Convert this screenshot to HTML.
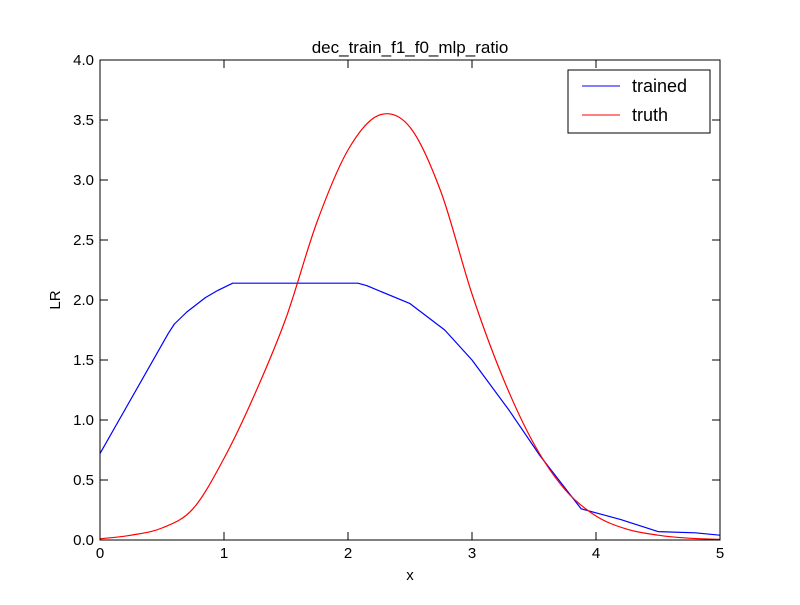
<!DOCTYPE html>
<html><head><meta charset="utf-8"><style>
body{margin:0;background:#fff;}
svg{font-family:"Liberation Sans","DejaVu Sans",sans-serif;}
</style></head><body>
<svg id="chart" width="800" height="600" xmlns="http://www.w3.org/2000/svg">
<rect width="800" height="600" fill="#fff"/>
<text x="410" y="53" text-anchor="middle" font-size="17">dec_train_f1_f0_mlp_ratio</text>
<g id="ticks"></g>
<g id="lines"></g>
<rect x="100" y="60" width="620" height="480" fill="none" stroke="#000" stroke-width="1"/>
<text x="410" y="580" text-anchor="middle" font-size="15">x</text>
<text x="60" y="300" text-anchor="middle" font-size="15" transform="rotate(-90 60 300)">LR</text>
<g>
<rect x="568" y="70" width="142" height="63" fill="#fff" stroke="#000"/>
<line x1="582" y1="86" x2="620" y2="86" stroke="#0000ff"/>
<text x="632" y="92" font-size="18">trained</text>
<line x1="582" y1="115" x2="620" y2="115" stroke="#ff0000"/>
<text x="632" y="121" font-size="18">truth</text>
</g>
</svg>
<script>
const xTicks=[0,1,2,3,4,5];
const yTicks=[0,0.5,1,1.5,2,2.5,3,3.5,4];
const yTickLabels=["0.0","0.5","1.0","1.5","2.0","2.5","3.0","3.5","4.0"];
const truthX=[0,0.25,0.5,0.75,1.0,1.25,1.5,1.75,2.0,2.25,2.5,2.75,3.0,3.25,3.5,3.75,4.0,4.25,4.5,4.75,5.0];
const truthY=[0.01,0.04,0.1,0.26,0.68,1.22,1.85,2.65,3.25,3.54,3.44,2.9,2.05,1.35,0.8,0.42,0.2,0.09,0.04,0.015,0.005];
const trainedX=[0,0.55,0.6,0.7,0.85,0.95,1.07,2.08,2.15,2.5,2.78,3.0,3.3,3.55,3.88,4.2,4.5,4.8,5.0];
const trainedY=[0.72,1.72,1.8,1.9,2.02,2.08,2.14,2.14,2.12,1.97,1.75,1.5,1.08,0.7,0.26,0.17,0.07,0.06,0.04];
const sx=v=>100+v*124, sy=v=>540-v*120;
const NS="http://www.w3.org/2000/svg";
const tg=document.getElementById('ticks'), lg=document.getElementById('lines');
function mk(tag,attrs,parent){const e=document.createElementNS(NS,tag);for(const k in attrs)e.setAttribute(k,attrs[k]);parent.appendChild(e);return e;}
xTicks.forEach(v=>{
  const x=sx(v);
  mk('line',{x1:x,y1:540,x2:x,y2:532,stroke:'#000'},tg);
  mk('line',{x1:x,y1:60,x2:x,y2:68,stroke:'#000'},tg);
  const t=mk('text',{x:x,y:558,'text-anchor':'middle','font-size':15},tg);
  t.textContent=v;
  
  
});
yTicks.forEach((v,i)=>{
  const y=sy(v);
  mk('line',{x1:100,y1:y,x2:108,y2:y,stroke:'#000'},tg);
  mk('line',{x1:720,y1:y,x2:712,y2:y,stroke:'#000'},tg);
  const t=mk('text',{x:94,y:y+5,'text-anchor':'end','font-size':15},tg);
  t.textContent=yTickLabels[i];
  
  
});
function linePath(xs,ys){
  return xs.map((x,i)=>(i?'L':'M')+sx(x)+','+sy(ys[i])).join('');
}
function smoothPath(xs,ys){
  const p=xs.map((x,i)=>[sx(x),sy(ys[i])]);
  let d=`M${p[0][0]},${p[0][1]}`;
  for(let i=0;i<p.length-1;i++){
    const p0=p[i-1]||p[i],p1=p[i],p2=p[i+1],p3=p[i+2]||p2;
    const c1=[p1[0]+(p2[0]-p0[0])/6,p1[1]+(p2[1]-p0[1])/6];
    const c2=[p2[0]-(p3[0]-p1[0])/6,p2[1]-(p3[1]-p1[1])/6];
    d+=`C${c1[0]},${c1[1]} ${c2[0]},${c2[1]} ${p2[0]},${p2[1]}`;
  }
  return d;
}
const tr=mk('path',{d:linePath(trainedX,trainedY),fill:'none',stroke:'#0000ff','stroke-width':1.2,'stroke-linejoin':'round'},lg);


const tu=mk('path',{d:smoothPath(truthX,truthY),fill:'none',stroke:'#ff0000','stroke-width':1.2},lg);


</script>
</body></html>
